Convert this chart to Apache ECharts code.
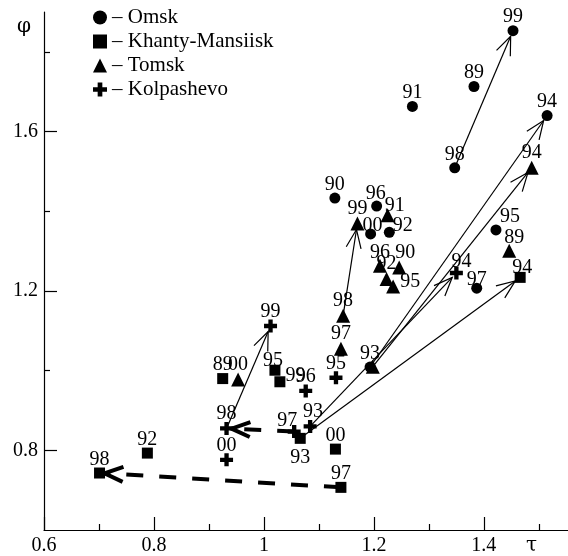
<!DOCTYPE html>
<html>
<head>
<meta charset="utf-8">
<script src="https://cdn.jsdelivr.net/npm/echarts@6/dist/echarts.min.js"></script>
<style>
  html, body { margin: 0; padding: 0; background: #fff; }
  #chart { width: 568px; height: 556px; }
</style>
</head>
<body>
<div id="chart"></div>
<script>
// values: tau (x), phi (y), year labels
var omskYears = ['89', '90', '91', '92', '93', '94', '95', '96', '97', '98', '99', '00'];
var omskTau = [1.382, 1.129, 1.270, 1.228, 1.193, 1.515, 1.422, 1.205, 1.387, 1.347, 1.453, 1.194];
var omskPhi = [1.713, 1.433, 1.663, 1.347, 1.009, 1.640, 1.353, 1.413, 1.207, 1.509, 1.853, 1.343];

var khantyYears = ['89', '92', '93', '94', '95', '97', '98', '99', '00'];
var khantyTau = [0.925, 0.788, 1.066, 1.466, 1.020, 1.140, 0.701, 1.029, 1.130];
var khantyPhi = [0.980, 0.793, 0.830, 1.234, 1.001, 0.707, 0.743, 0.972, 0.803];

var tomskYears = ['89', '90', '91', '92', '93', '94', '95', '96', '97', '98', '99', '00'];
var tomskTau = [1.446, 1.246, 1.225, 1.223, 1.198, 1.487, 1.235, 1.211, 1.140, 1.144, 1.170, 0.953];
var tomskPhi = [1.301, 1.259, 1.390, 1.230, 1.010, 1.509, 1.211, 1.263, 1.055, 1.138, 1.369, 0.978];

var kolpYears = ['93', '94', '95', '96', '97', '98', '99', '00'];
var kolpTau = [1.084, 1.350, 1.131, 1.076, 1.055, 0.932, 1.012, 0.932];
var kolpPhi = [0.860, 1.245, 0.982, 0.949, 0.847, 0.855, 1.112, 0.776];

// arrows: city, from year, to year, dashed?
var arrowLinks = [
  ['Omsk', '98', '99', 0],
  ['Tomsk', '98', '99', 0],
  ['Kolpashevo', '98', '99', 0],
  ['Omsk', '93', '94', 0],
  ['Tomsk', '93', '94', 0],
  ['Kolpashevo', '93', '94', 0],
  ['Khanty-Mansiisk', '93', '94', 0],
  ['Khanty-Mansiisk', '97', '98', 1],
  ['Kolpashevo', '97', '98', 1]
];

var xMajorTicks = [0.6, 0.8, 1, 1.2, 1.4];
var xMinorTicks = [0.7, 0.9, 1.1, 1.3, 1.5];
var yMajorTicks = [0.8, 1.2, 1.6];
var yMinorTicks = [1.0, 1.4, 1.8];

var FONT = 'Liberation Serif';

var cities = {
  'Omsk': { years: omskYears, tau: omskTau, phi: omskPhi },
  'Khanty-Mansiisk': { years: khantyYears, tau: khantyTau, phi: khantyPhi },
  'Tomsk': { years: tomskYears, tau: tomskTau, phi: tomskPhi },
  'Kolpashevo': { years: kolpYears, tau: kolpTau, phi: kolpPhi }
};

// label tweaks so the year numbers sit where they do in the picture
var labelFix = {
  'Omsk-92': { position: 'right', offset: [0, -7] },
  'Omsk-00': { offset: [2, 5] },
  'Omsk-95': { offset: [14, 0] },
  'Omsk-97': { offset: [0, 5] },
  'Omsk-96': { offset: [-1, 1] },
  'Tomsk-91': { offset: [7, 6] },
  'Tomsk-90': { offset: [6, 0] },
  'Tomsk-95': { position: 'right', offset: [2, -5] },
  'Tomsk-89': { offset: [5, 2] },
  'Tomsk-96': { offset: [0, 2] },
  'Tomsk-93': { show: false },
  'Khanty-Mansiisk-94': { offset: [2, 4] },
  'Khanty-Mansiisk-93': { position: 'bottom', offset: [0, 6] },
  'Khanty-Mansiisk-99': { position: 'right', offset: [2, -6] },
  'Khanty-Mansiisk-95': { offset: [-2, 4] },
  'Kolpashevo-94': { offset: [5, 3] },
  'Kolpashevo-93': { offset: [3, 0] },
  'Kolpashevo-97': { offset: [-7, 4] }
};

function buildPoints(name) {
  var c = cities[name];
  var res = [];
  for (var i = 0; i < c.years.length; i++) {
    var item = { name: c.years[i], value: [c.tau[i], c.phi[i]] };
    var fix = labelFix[name + '-' + c.years[i]];
    if (fix) item.label = fix;
    res.push(item);
  }
  return res;
}

function findPoint(name, year) {
  var c = cities[name];
  var i = c.years.indexOf(year);
  return [c.tau[i], c.phi[i]];
}

var arrowData = arrowLinks.map(function (a) {
  var p1 = findPoint(a[0], a[1]);
  var p2 = findPoint(a[0], a[2]);
  return [p1[0], p1[1], p2[0], p2[1], a[3]];
});

function renderArrow(params, api) {
  var p1 = api.coord([api.value(0), api.value(1)]);
  var p2 = api.coord([api.value(2), api.value(3)]);
  var dashed = api.value(4) === 1;
  var dx = p2[0] - p1[0], dy = p2[1] - p1[1];
  var len = Math.sqrt(dx * dx + dy * dy);
  var ux = dx / len, uy = dy / len;
  var gap = dashed ? 5 : 6;
  var tip = [p2[0] - ux * gap, p2[1] - uy * gap];
  var hl = 20, ang = 22 * Math.PI / 180;
  var c = Math.cos(ang), s = Math.sin(ang);
  var a1 = [tip[0] - hl * (ux * c - uy * s), tip[1] - hl * (uy * c + ux * s)];
  var a2 = [tip[0] - hl * (ux * c + uy * s), tip[1] - hl * (uy * c - ux * s)];
  var w = dashed ? 4 : 1.2;
  return {
    type: 'group',
    children: [
      {
        type: 'line',
        shape: { x1: p1[0], y1: p1[1], x2: tip[0], y2: tip[1] },
        style: { stroke: '#000', lineWidth: w, lineDash: dashed ? [17, 16] : null }
      },
      {
        type: 'polyline',
        shape: { points: [a1, tip, a2] },
        style: { stroke: '#000', fill: null, lineWidth: w }
      }
    ]
  };
}

var crossPath = 'path://M4,0H8V4H12V8H8V12H4V8H0V4H4Z';

function scatterSeries(name, symbol, size) {
  return {
    name: name,
    type: 'scatter',
    symbol: symbol,
    symbolSize: size,
    z: 3,
    itemStyle: { color: '#000', opacity: 1 },
    label: {
      show: true,
      position: 'top',
      distance: -2,
      formatter: '{b}',
      color: '#000',
      fontFamily: FONT,
      fontSize: 20
    },
    emphasis: { disabled: true },
    data: buildPoints(name)
  };
}

var myChart = echarts.init(document.getElementById('chart'));

myChart.setOption({
  animation: false,
  backgroundColor: '#fff',
  grid: { left: 44, top: 12, right: 0, bottom: 24, containLabel: false },
  legend: {
    orient: 'vertical',
    left: 88,
    top: 2,
    itemWidth: 14,
    itemHeight: 14,
    itemGap: 3,
    data: ['Omsk', 'Khanty-Mansiisk', 'Tomsk', 'Kolpashevo'],
    formatter: function (n) { return '\u2013 ' + n; },
    textStyle: { color: '#000', fontFamily: FONT, fontSize: 21 },
    selectedMode: false
  },
  xAxis: [{
    type: 'value',
    min: 0.6,
    max: 1.553,
    axisLine: { lineStyle: { color: '#000', width: 1.2 } },
    axisTick: { inside: true, length: 13, customValues: xMajorTicks, lineStyle: { color: '#000', width: 1.2 } },
    axisLabel: { customValues: xMajorTicks, color: '#000', fontFamily: FONT, fontSize: 20, margin: 6 },
    splitLine: { show: false }
  }, {
    type: 'value',
    position: 'bottom',
    min: 0.6,
    max: 1.553,
    axisLine: { show: false },
    axisTick: { inside: true, length: 6, customValues: xMinorTicks, lineStyle: { color: '#000', width: 1.2 } },
    axisLabel: { show: false },
    splitLine: { show: false }
  }],
  yAxis: [{
    type: 'value',
    min: 0.6,
    max: 1.9,
    axisLine: { show: true, lineStyle: { color: '#000', width: 1.2 } },
    axisTick: { show: true, inside: true, length: 13, customValues: yMajorTicks, lineStyle: { color: '#000', width: 1.2 } },
    axisLabel: { customValues: yMajorTicks, color: '#000', fontFamily: FONT, fontSize: 20, margin: 6 },
    splitLine: { show: false }
  }, {
    type: 'value',
    position: 'left',
    min: 0.6,
    max: 1.9,
    axisLine: { show: false },
    axisTick: { show: true, inside: true, length: 6, customValues: yMinorTicks, lineStyle: { color: '#000', width: 1.2 } },
    axisLabel: { show: false },
    splitLine: { show: false }
  }],
  graphic: [
    { type: 'text', left: 17, top: 17, style: { text: '\u03c6', font: '20px "DejaVu Serif"', fill: '#000' } },
    { type: 'text', left: 526, top: 536, style: { text: '\u03c4', font: '20px "DejaVu Serif"', fill: '#000' } }
  ],
  series: [
    {
      name: 'arrows',
      type: 'custom',
      renderItem: renderArrow,
      z: 1,
      silent: true,
      encode: { x: [0, 2], y: [1, 3] },
      data: arrowData
    },
    scatterSeries('Omsk', 'circle', 11),
    scatterSeries('Khanty-Mansiisk', 'rect', 11),
    scatterSeries('Tomsk', 'triangle', 14),
    scatterSeries('Kolpashevo', crossPath, 13)
  ]
});
</script>
</body>
</html>
